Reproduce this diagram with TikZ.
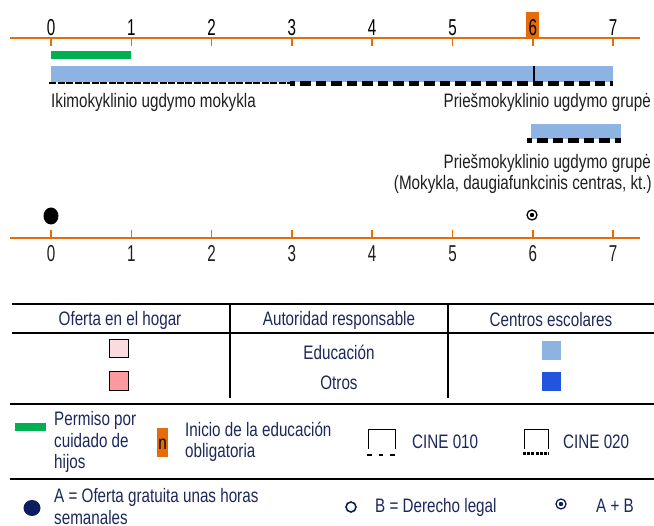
\documentclass[tikz,border=0pt]{standalone}
\usepackage{fontspec}
\setmainfont[FakeStretch=0.78]{Liberation Sans}
\newfontfamily\numfont[FakeStretch=0.66]{Liberation Sans}
\definecolor{axorange}{RGB}{228,108,10}
\definecolor{barblue}{RGB}{141,179,226}
\definecolor{darkblue}{RGB}{35,84,222}
\definecolor{pinklight}{RGB}{250,220,222}
\definecolor{pinkdark}{RGB}{255,153,160}
\definecolor{leavegreen}{RGB}{0,176,80}
\definecolor{navy}{RGB}{28,40,90}
\definecolor{navydot}{RGB}{12,30,92}
\definecolor{txtgray}{RGB}{30,30,30}
\tikzset{
  txt/.style={inner sep=0pt, font=\fontsize{19.5}{21.5}\selectfont, text=txtgray},
  ntxt/.style={inner sep=0pt, font=\fontsize{19.5}{21.5}\selectfont, text=navy},
  numtxt/.style={inner sep=0pt, anchor=base, font=\numfont\fontsize{23}{25}\selectfont, text=txtgray},
  axline/.style={draw=axorange, line width=2pt},
  tickln/.style={draw=axorange, line width=1.6pt},
  rule/.style={draw=black, line width=2pt},
  cineA/.style={draw=black, line width=2.5pt, dash pattern=on 7pt off 1.5pt},
  cineB/.style={draw=black, line width=5pt, dash pattern=on 10.5pt off 5pt},
}
\begin{document}
\begin{tikzpicture}[x=1pt,y=-1pt]
\useasboundingbox (0,0) rectangle (654,526);
% ---------- top axis
\fill[axorange] (526,12) rectangle (539,38);
\draw[axline] (10,38) -- (640,38);
\foreach \i in {0,...,7}{
  \pgfmathsetmacro{\xx}{51+80.3*\i}
  \draw[tickln] (\xx,38) -- (\xx,46);
  \node[numtxt, text=black] (t\i) at (\xx,36) {\i};
}
% ---------- bars
\fill[leavegreen] (51,51) rectangle (131,59);
\fill[barblue] (51,66) rectangle (613,82);
\draw[cineA] (49,83) -- (290,83);
\draw[cineB, dash phase=-10pt] (290,84) -- (613,84);
\draw[black, line width=1.5pt] (534,66) -- (534,84);
\node[txt, anchor=west] (ikim) at (51,102) {Ikimokyklinio ugdymo mokykla};
\node[txt, anchor=east] (pries1) at (651,102) {Priešmokyklinio ugdymo grupė};
\fill[barblue] (531,124) rectangle (621,139);
\draw[cineB, dash phase=-10pt] (527,141) -- (621,141);
\node[txt, anchor=east] (pries2) at (651,163) {Priešmokyklinio ugdymo grupė};
\node[txt, anchor=east] (pries3) at (652,184) {(Mokykla, daugiafunkcinis centras, kt.)};
% ---------- dots
\fill[black] (51,216) ellipse [x radius=7.5, y radius=8.5];
\draw[black, line width=1.3pt] (532,215) circle [radius=5];
\fill[black] (532,215) circle [radius=2.2];
% ---------- bottom axis
\draw[axline] (10,238) -- (640,238);
\foreach \i in {0,...,7}{
  \pgfmathsetmacro{\xx}{51+80.3*\i}
  \draw[tickln] (\xx,230) -- (\xx,238);
  \node[numtxt] (b\i) at (\xx,262) {\i};
}
% ---------- table
\draw[rule] (12,304) -- (654,304);
\draw[rule] (12,333) -- (654,333);
\draw[rule] (230,304) -- (230,398);
\draw[rule] (448,304) -- (448,398);
\node[ntxt] (h1) at (120,320) {Oferta en el hogar};
\node[ntxt] (h2) at (339,320) {Autoridad responsable};
\node[ntxt] (h3) at (551,320) {Centros escolares};
\draw[black, line width=1pt, fill=pinklight] (109,340) rectangle (128,358);
\draw[black, line width=1pt, fill=pinkdark] (109,372) rectangle (128,391);
\node[ntxt] (edu) at (339,352) {Educación};
\node[ntxt] (otr) at (339,383) {Otros};
\fill[barblue] (542,341) rectangle (561,360);
\fill[darkblue] (542,372) rectangle (561,391);
% ---------- legend
\draw[rule] (10,404) -- (654,404);
\fill[leavegreen] (15,423) rectangle (46,431);
\node[ntxt, anchor=west, align=left] (perm) at (54,442) {Permiso por\\cuidado de\\hijos};
\fill[axorange] (157,428) rectangle (168,457);
\node[inner sep=0pt, font=\fontsize{19.5}{21.5}\selectfont, text=black] (nn) at (162.5,444) {n};
\node[ntxt, anchor=west, align=left] (inic) at (185,442) {Inicio de la educación\\obligatoria};
\draw[black, line width=0.8pt] (368,449) -- (368,429) -- (395,429) -- (395,449);
\draw[black, line width=2pt, dash pattern=on 4.5pt off 7pt] (367,455) -- (396,455);
\node[ntxt, anchor=west] (c010) at (412,442) {CINE 010};
\draw[black, line width=0.8pt] (524,449) -- (524,429) -- (548,429) -- (548,449);
\draw[black, line width=3pt, dash pattern=on 3pt off 1.2pt] (523,454) -- (549,454);
\node[ntxt, anchor=west] (c020) at (563,442) {CINE 020};
\draw[rule] (10,479) -- (654,479);
\fill[navydot] (32,508) ellipse [x radius=8.5, y radius=8];
\node[ntxt, anchor=west, align=left] (aa) at (54,506.5) {A = Oferta gratuita unas horas\\semanales};
\draw[navydot, line width=1.6pt] (351,507) circle [radius=5];
\node[ntxt, anchor=west] (bb) at (375,507) {B = Derecho legal};
\draw[navydot, line width=1.3pt] (561,504) circle [radius=5];
\fill[navydot] (561,504) circle [radius=2.2];
\node[ntxt, anchor=west] (ab) at (596,506) {A + B};
\end{tikzpicture}
\end{document}
